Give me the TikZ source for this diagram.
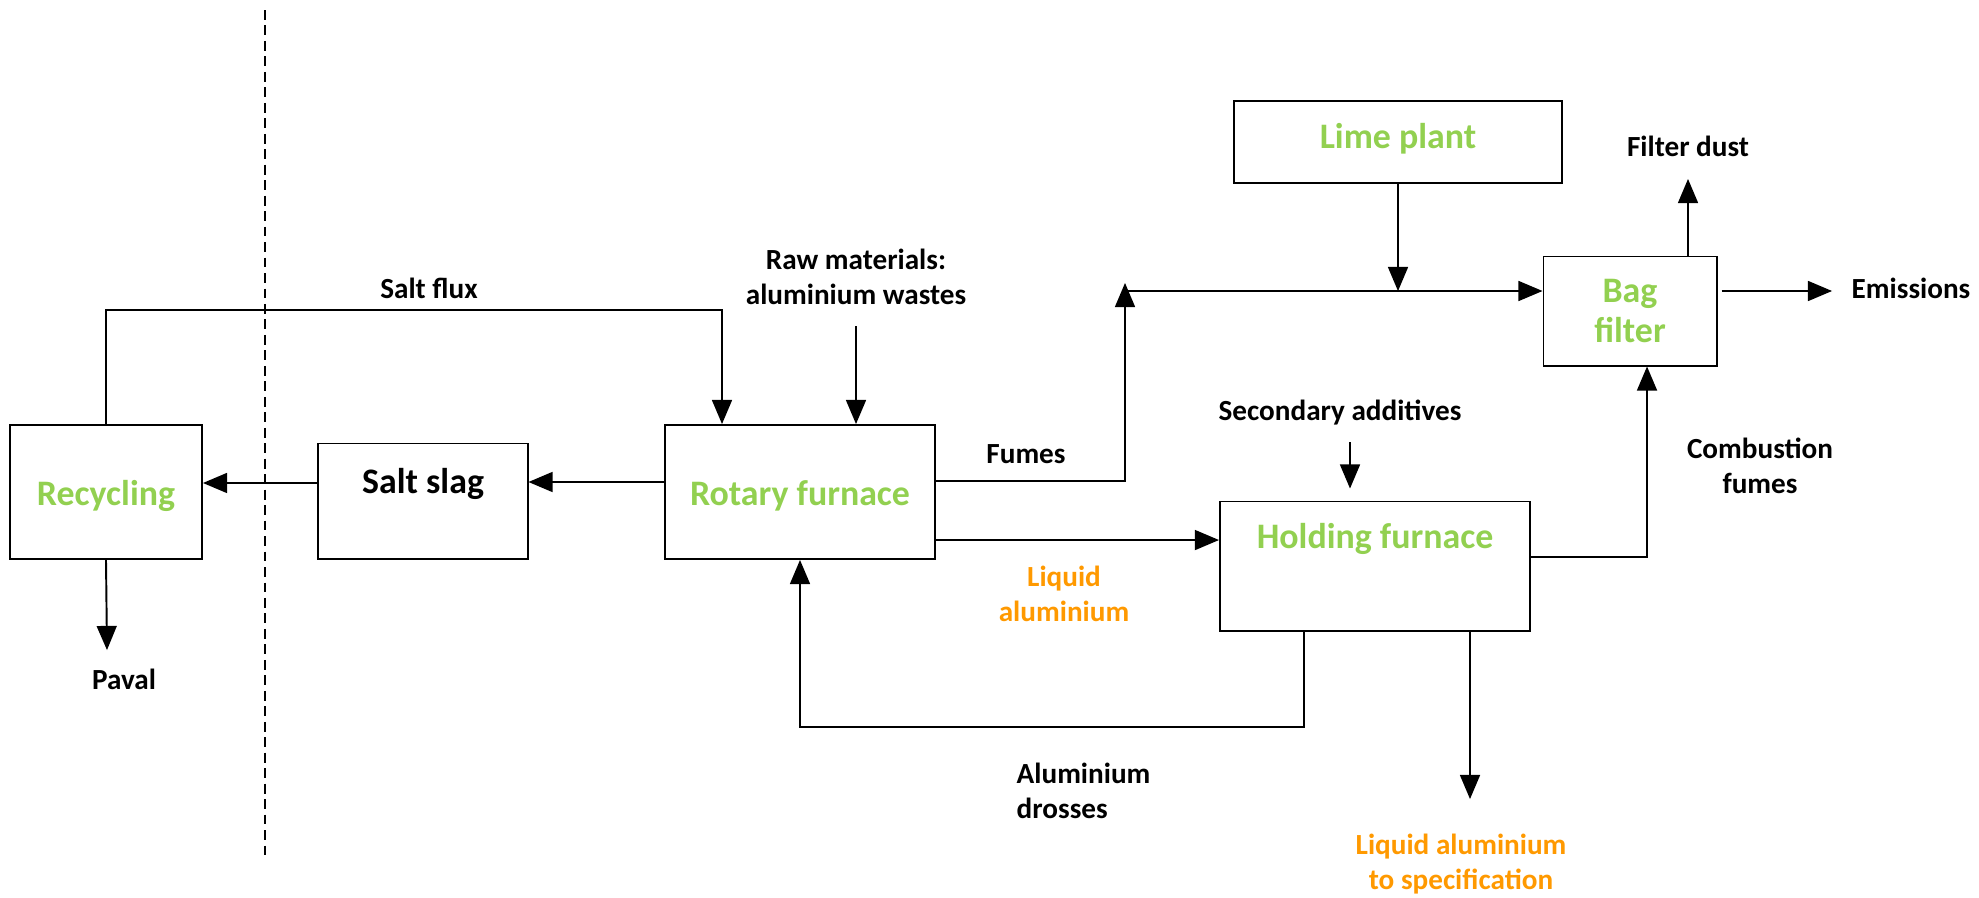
\documentclass[tikz,border=0pt]{standalone}
\usepackage{fontspec}
\setmainfont{Carlito}
\usepackage{xcolor}
\usetikzlibrary{positioning,arrows}
\definecolor{procgreen}{RGB}{146,208,80}
\definecolor{liqorange}{RGB}{255,153,0}

\begin{document}
\begin{tikzpicture}[x=0.01cm,y=-0.01cm,>=triangle 45,
	unit/.style={draw,line width=0.55pt,inner sep=0pt,text=procgreen,
		font=\fontsize{10.2}{11.5}\selectfont\bfseries,text height=0.26cm,text depth=0pt},
	plainunit/.style={unit,text=black},
	lbl/.style={font=\fontsize{8.3}{10}\selectfont\bfseries,align=center,inner sep=0pt},
	flow/.style={->,line width=0.55pt}]
			\useasboundingbox (0,0) rectangle (1979,897);
			% border of the plant
			\draw[line width=0.5pt,dash pattern=on 2.8pt off 1.6pt] (265,10) -- (265,858);

			\node[unit,minimum width=1.92cm,minimum height=1.34cm] (rec) at (106,492) {Recycling};
			\node[plainunit,minimum width=2.09cm,minimum height=1.15cm,text depth=0.42cm] (slag) at (423,501) {Salt slag};
			\node[unit,minimum width=2.69cm,minimum height=1.34cm] (rot) at (800,492) {Rotary furnace};
			\node[unit,minimum width=3.10cm,minimum height=1.29cm,text depth=0.60cm] (hold) at (1375,566) {Holding furnace};
			\node[unit,minimum width=3.27cm,minimum height=0.82cm,text depth=0.14cm] (lime) at (1398,142) {Lime plant};
			\node[unit,minimum width=1.73cm,minimum height=1.09cm,text height=,text depth=,align=center] (bag) at (1630,311) {Bag\\filter};

			\node[lbl] (flux) at (429,288) {Salt flux};
			\node[lbl] (raw) at (856,277) {Raw materials:\\aluminium wastes};
			\node[lbl] (fumes) at (1026,454) {Fumes};
			\node[lbl,text=liqorange] (liq) at (1064,594) {Liquid\\aluminium};
			\node[lbl] (add) at (1340,413) {Secondary additives};
			\node[lbl] (comb) at (1760,466) {Combustion\\fumes};
			\node[lbl] (emis) at (1911,288) {Emissions};
			\node[lbl,align=left,anchor=west] (dross) at (1016,791) {Aluminium\\drosses};
			\node[lbl,text=liqorange] (spec) at (1461,864) {Liquid aluminium\\to specification};

			\coordinate (s1) at ([yshift=0.18cm]slag.west);
			\coordinate (r1) at ([yshift=0.10cm]rot.west);
			\coordinate (fluxtop) at (722,310);
			\coordinate (rawin) at (856,326);
			\coordinate (fumetop) at (1125,283);
			\coordinate (gasline) at (1125,291);
			\coordinate (addin) at (1350,442);
			\coordinate (dustout) at (1688,179);
			\coordinate (emisout) at (1832,291);
			\coordinate (drossbot) at (1304,727);
			\coordinate (specout) at (1470,799);
			\coordinate (pavalout) at (107,650);
			\node[lbl,below=0.18cm of pavalout,xshift=0.17cm] (paval) {Paval};
			\node[lbl,above=0.22cm of dustout] (dust) {Filter dust};

			\draw[flow] (s1) -- (s1 -| rec.east);
			\draw[flow] (r1) -- (r1 -| slag.east);
			\draw[flow] (rec.north) |- (fluxtop) -- (fluxtop |- rot.north);
			\draw[flow] (rawin) -- (rawin |- rot.north);
			\draw[flow] ([yshift=0.11cm]rot.east) -| (fumetop);
			\draw[flow] (gasline) -- (gasline -| bag.west);
			\draw[flow] (lime.south) -- (lime.south |- gasline);
			\draw[flow] ([yshift=-0.48cm]rot.east) -- ([yshift=-0.48cm]rot.east -| hold.west);
			\draw[flow] (addin) -- ([yshift=0.12cm]addin |- hold.north);
			\draw[flow] ([yshift=0.09cm]hold.east) -| ([xshift=0.17cm]bag.south);
			\draw[flow] (dustout |- bag.north) -- (dustout);
			\draw[flow] ([xshift=0.04cm]emisout -| bag.east) -- (emisout);
			\draw[flow] (drossbot |- hold.south) -- (drossbot) -| (rot.south);
			\draw[flow] (specout |- hold.south) -- (specout);
			\draw[flow] (rec.south) -- (pavalout);
\end{tikzpicture}
\end{document}
